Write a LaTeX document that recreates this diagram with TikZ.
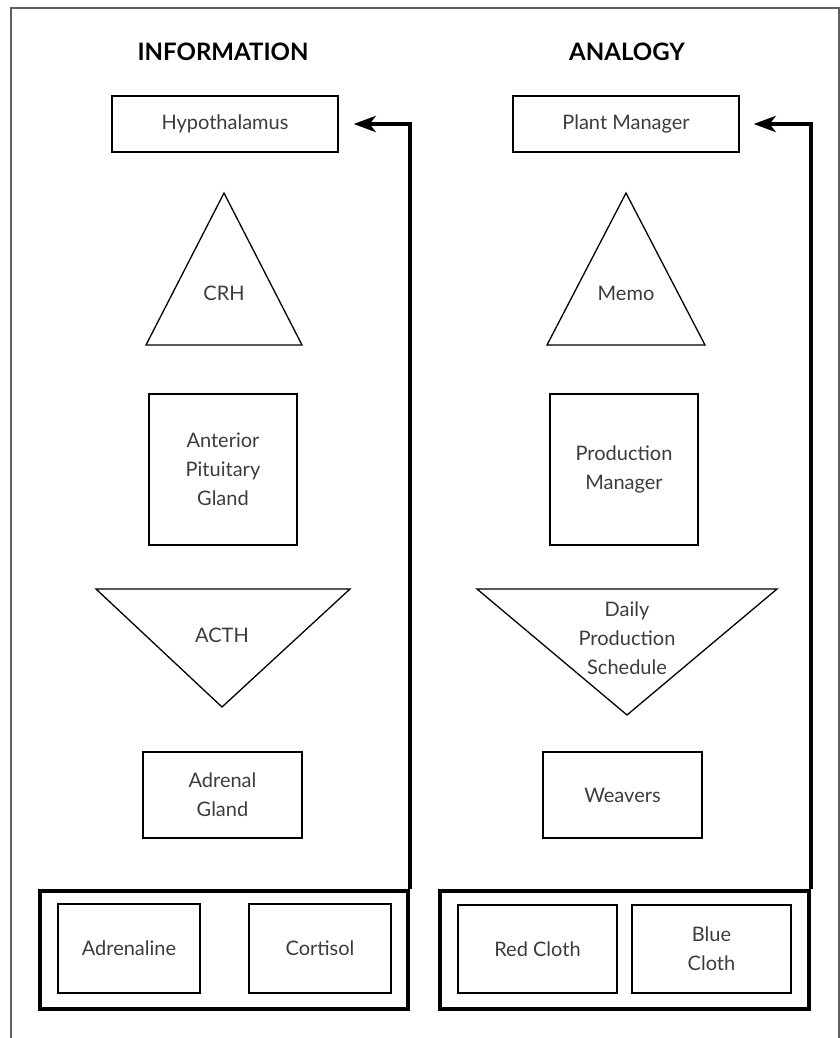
\documentclass[tikz,border=0pt]{standalone}
\usepackage{fontspec}
\setmainfont{Lato}
\usetikzlibrary{arrows.meta,calc}
\definecolor{txt}{HTML}{3C3C3C}
\definecolor{frame}{HTML}{606060}
\begin{document}
\begin{tikzpicture}[x=1pt,y=-1pt,
  box/.style={draw=black,line width=1.3pt,rectangle,inner sep=0pt,align=center,text=txt,
    font=\fontsize{20}{29}\selectfont},
  lbl/.style={inner sep=0pt,align=center,text=txt,font=\fontsize{20}{29}\selectfont},
  tri/.style={draw=black,line width=1.3pt,line join=miter},
  group/.style={draw=black,line width=4pt,rectangle,inner sep=0pt},
  head/.style={inner sep=0pt,font=\fontsize{24}{28}\bfseries\selectfont,text=black},
  feedback/.style={line width=4pt,-{Stealth[length=22pt,width=16pt,inset=6pt]}}]
\useasboundingbox (0,0) rectangle (840,1038);
% outer frame
\draw[frame,line width=1.5pt] (11,1038) -- (11,8) -- (839,8) -- (839,1038);
% headers
\node[head] (hInfo) at (223,52) {INFORMATION};
\node[head] (hAna) at (627,52) {ANALOGY};
% left column
\node[box,minimum width=226pt,minimum height=56pt] (hyp) at (225,124) {Hypothalamus};
\coordinate (crhA) at (224,193);
\coordinate (crhB) at (146,345);
\coordinate (crhC) at (302,345);
\draw[tri] (crhA) -- (crhB) -- (crhC) -- cycle;
\node[lbl] (crh) at (224,293) {CRH};
\node[box,minimum width=148pt,minimum height=151pt] (apg) at (223,469.5) {Anterior\\Pituitary\\Gland};
\coordinate (acthA) at (96,589);
\coordinate (acthB) at (350,589);
\coordinate (acthC) at (222,707);
\draw[tri] (acthA) -- (acthB) -- (acthC) -- cycle;
\node[lbl] (acth) at (222,635) {ACTH};
\node[box,minimum width=159pt,minimum height=86pt] (adg) at (222.5,795) {Adrenal\\Gland};
\node[group,minimum width=367.5pt,minimum height=118pt] (bigL) at (223.75,950) {};
\node[box,minimum width=142pt,minimum height=89pt] (adr) at (129,948.5) {Adrenaline};
\node[box,minimum width=142pt,minimum height=89pt] (cor) at (320,948.5) {Cortisol};
% right column
\node[box,minimum width=226pt,minimum height=56pt] (pm) at (626,124) {Plant Manager};
\coordinate (memoA) at (626,193);
\coordinate (memoB) at (547,345);
\coordinate (memoC) at (705,345);
\draw[tri] (memoA) -- (memoB) -- (memoC) -- cycle;
\node[lbl] (memo) at (626,293) {Memo};
\node[box,minimum width=148pt,minimum height=151pt] (prm) at (624,469.5) {Production\\Manager};
\coordinate (dpsA) at (477,589);
\coordinate (dpsB) at (777,589);
\coordinate (dpsC) at (627,715);
\draw[tri] (dpsA) -- (dpsB) -- (dpsC) -- cycle;
\node[lbl] (dps) at (627,638) {Daily\\Production\\Schedule};
\node[box,minimum width=159pt,minimum height=86pt] (wev) at (622.5,795) {Weavers};
\node[group,minimum width=369pt,minimum height=118pt] (bigR) at (624.5,950) {};
\node[box,minimum width=159pt,minimum height=88pt] (red) at (537.5,949) {Red Cloth};
\node[box,minimum width=159pt,minimum height=88pt] (blue) at (711.5,949) {Blue\\Cloth};
% feedback connectors
\coordinate (hypIn) at ($(hyp.east)+(15,0)$);
\coordinate (pmIn) at ($(pm.east)+(14,0)$);
\draw[feedback] (bigL.north east) |- (hypIn);
\draw[feedback] (bigR.north east) |- (pmIn);
\end{tikzpicture}
\end{document}
